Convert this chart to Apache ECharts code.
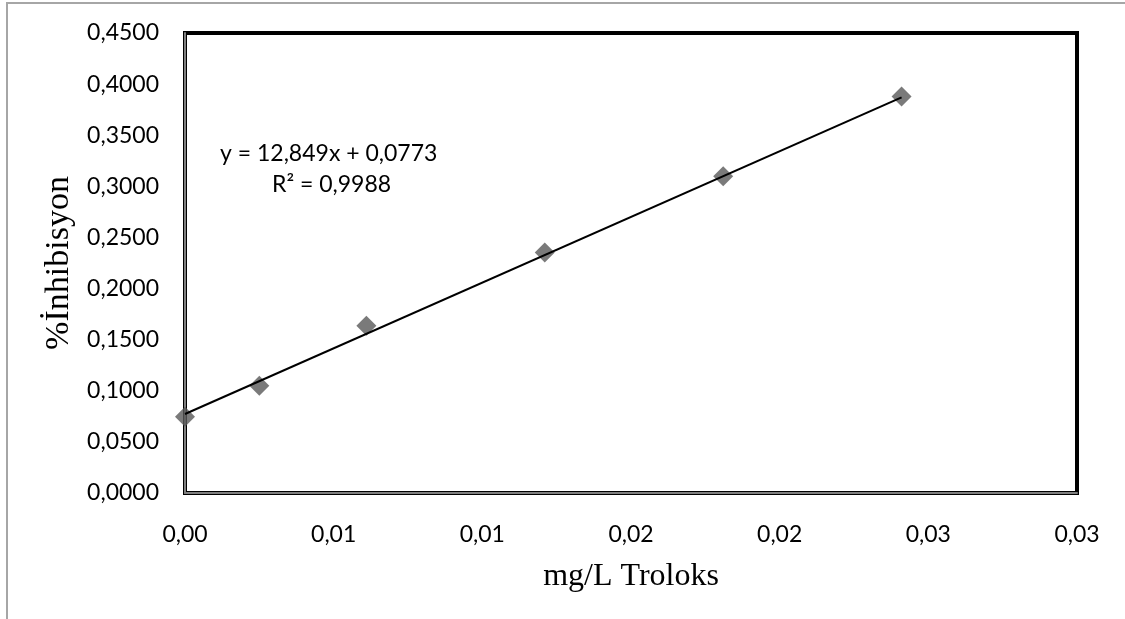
<!DOCTYPE html>
<html>
<head>
<meta charset="utf-8">
<script src="https://cdn.jsdelivr.net/npm/echarts@6/dist/echarts.min.js"></script>
<style>
html, body { margin: 0; padding: 0; background: #fff; }
#main { width: 1125px; height: 619px; }
#frame { position: absolute; left: 6px; top: 2px; width: 1200px; height: 700px; border-left: 2px solid #a6a6a6; border-top: 2px solid #a6a6a6; pointer-events: none; }
</style>
</head>
<body>
<div id="frame"></div>
<div id="main"></div>
<script>
// veriler
var troloks = [0.0000, 0.0025, 0.0061, 0.0121, 0.0181, 0.0241];
var inhibisyon = [0.0745, 0.1049, 0.1637, 0.2353, 0.3098, 0.3880];
var xTickLabels = ['0,00', '0,01', '0,01', '0,02', '0,02', '0,03', '0,03'];
var yTickLabels = ['0,0000', '0,0500', '0,1000', '0,1500', '0,2000', '0,2500', '0,3000', '0,3500', '0,4000', '0,4500'];
var egim = 12.849, kesisim = 0.0773;
var denklem = ['y = 12,849x + 0,0773', 'R² = 0,9988'];

// trend çizgisi (denklemden)
var trend = [
	[troloks[0], kesisim + egim * troloks[0]],
	[troloks[troloks.length - 1], kesisim + egim * troloks[troloks.length - 1]]
];

var myChart = echarts.init(document.getElementById('main'));
var sayiFont = 'Lato';
var option = {
	animation: false,
	grid: {
		left: 185, right: 48, top: 33, bottom: 126,
		show: true, borderColor: '#000', borderWidth: 4
	},
	xAxis: {
		type: 'value',
		min: 0, max: 0.03, interval: 0.005,
		offset: 2,
		name: 'mg/L Troloks',
		nameLocation: 'middle',
		nameGap: 66,
		nameTextStyle: { fontFamily: 'Liberation Serif', fontSize: 32, color: '#000' },
		axisLine: { lineStyle: { color: '#7f7f7f', width: 2 } },
		axisTick: { show: false },
		splitLine: { show: false },
		axisLabel: {
			margin: 28,
			fontFamily: sayiFont, fontSize: 23, color: '#000',
			formatter: function (v, i) { return xTickLabels[i]; }
		}
	},
	yAxis: {
		type: 'value',
		min: 0, max: 0.45, interval: 0.05,
		offset: 2,
		name: '%İnhibisyon',
		nameLocation: 'middle',
		nameGap: 104,
		nameTextStyle: { fontFamily: 'Liberation Serif', fontSize: 34, color: '#000' },
		axisLine: { show: true, lineStyle: { color: '#7f7f7f', width: 2 } },
		axisTick: { show: false },
		splitLine: { show: false },
		axisLabel: {
			margin: 24,
			fontFamily: sayiFont, fontSize: 23, color: '#000',
			formatter: function (v, i) { return yTickLabels[i]; }
		}
	},
	graphic: [
		{ type: 'text', left: 220, top: 142, style: { text: denklem[0], font: '23px Lato', fill: '#000' } },
		{ type: 'text', left: 272, top: 173, style: { text: denklem[1], font: '23px Lato', fill: '#000' } }
	],
	series: [{
		type: 'scatter',
		symbol: 'diamond',
		symbolSize: 20,
		itemStyle: { color: '#595959' },
		data: troloks.map(function (x, i) { return [x, inhibisyon[i]]; }),
		z: 2
	}, {
		type: 'line',
		showSymbol: false,
		lineStyle: { color: '#000', width: 2 },
		data: trend,
		z: 3
	}]
};
myChart.setOption(option);
</script>
</body>
</html>
